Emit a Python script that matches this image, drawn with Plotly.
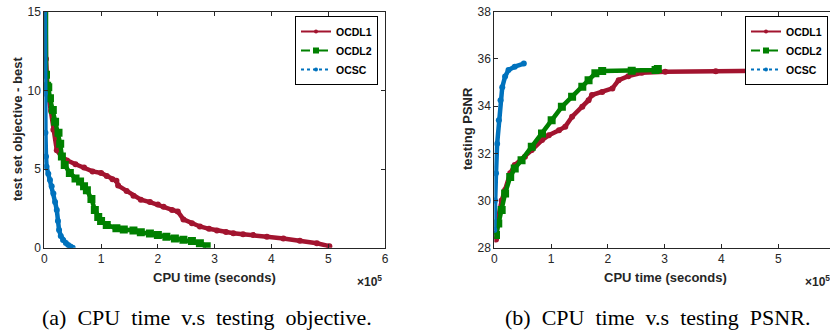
import plotly.graph_objects as go

# ---------------- data (time in units of 1e5 seconds) ----------------
obj_t_ocdl1 = [0.02, 0.03, 0.06, 0.12, 0.16, 0.22, 0.30, 0.40, 0.55, 0.70, 0.85, 1.00, 1.10, 1.20, 1.27,
               1.30, 1.45, 1.57, 1.70, 1.86, 2.00, 2.10, 2.25, 2.35, 2.45, 2.60, 2.74, 2.90, 3.04, 3.20,
               3.33, 3.50, 3.68, 3.92, 4.21, 4.50, 4.80, 5.02]
obj_v_ocdl1 = [16.0, 12.0, 10.0, 8.7, 7.5, 6.2, 5.8, 5.55, 5.3, 5.1, 4.85, 4.75, 4.55, 4.35, 4.25,
               3.95, 3.6, 3.3, 3.05, 2.9, 2.75, 2.6, 2.4, 2.3, 1.8, 1.55, 1.35, 1.2, 1.1, 1.0,
               0.92, 0.85, 0.8, 0.7, 0.58, 0.44, 0.28, 0.1]

obj_t_ocdl2 = [0.03, 0.03, 0.05, 0.07, 0.10, 0.15, 0.19, 0.25, 0.28, 0.31, 0.36, 0.45, 0.55, 0.63, 0.70,
               0.75, 0.83, 0.89, 0.95, 1.00, 1.10, 1.27, 1.40, 1.57, 1.70, 1.86, 2.00, 2.15, 2.30, 2.45,
               2.60, 2.74, 2.86]
obj_v_ocdl2 = [16.0, 11.0, 10.3, 10.2, 9.5, 8.75, 8.0, 7.3, 6.6, 5.8, 5.25, 4.75, 4.4, 4.2, 3.9,
               3.65, 3.1, 2.4, 1.95, 1.7, 1.45, 1.23, 1.15, 1.1, 0.98, 0.9, 0.8, 0.7, 0.58, 0.5,
               0.42, 0.28, 0.1]

obj_t_ocsc = [0.01, 0.01, 0.02, 0.03, 0.04, 0.07, 0.10, 0.13, 0.16, 0.19, 0.22, 0.24, 0.26, 0.29, 0.33,
              0.38, 0.42, 0.46, 0.50]
obj_v_ocsc = [16.0, 9.8, 7.3, 5.8, 5.15, 4.7, 4.3, 3.9, 3.45, 2.9, 2.4, 1.7, 1.12, 0.75, 0.49,
              0.3, 0.17, 0.08, 0.0]

psnr_t_ocdl1 = [0.03, 0.07, 0.13, 0.19, 0.28, 0.36, 0.54, 0.66, 0.84, 0.96, 1.14, 1.25, 1.37, 1.55, 1.66,
                1.72, 1.90, 2.08, 2.19, 2.36, 2.60, 3.01, 3.90, 5.04]
psnr_v_ocdl1 = [28.35, 29.3, 30.0, 30.45, 31.15, 31.5, 31.85, 32.14, 32.56, 32.77, 32.98, 33.13, 33.55, 33.97, 34.25,
                34.47, 34.6, 34.75, 35.1, 35.27, 35.41, 35.46, 35.48, 35.5]

psnr_t_ocdl2 = [0.03, 0.07, 0.13, 0.19, 0.28, 0.36, 0.48, 0.66, 0.84, 1.01, 1.19, 1.37, 1.55, 1.66, 1.78,
                1.90, 2.42, 2.84, 2.88]
psnr_v_ocdl2 = [28.54, 29.03, 29.6, 30.3, 31.0, 31.36, 31.71, 32.28, 32.84, 33.4, 33.97, 34.4, 34.82, 35.1, 35.39,
                35.49, 35.5, 35.53, 35.57]

psnr_t_ocsc = [0.0, 0.01, 0.03, 0.05, 0.08, 0.11, 0.14, 0.19, 0.25, 0.36, 0.52]
psnr_v_ocsc = [28.75, 30.0, 31.15, 32.4, 33.4, 34.25, 34.8, 35.25, 35.53, 35.67, 35.8]

series_names = ["OCDL1", "OCDL2", "OCSC"]
obj_x_ticks = [0, 1, 2, 3, 4, 5, 6]
obj_y_ticks = [0, 5, 10, 15]
psnr_x_ticks = [0, 1, 2, 3, 4, 5, 6]
psnr_y_ticks = [28, 30, 32, 34, 36, 38]

# ---------------- styles ----------------
W, H = 830, 331
colors = ["#A2142F", "#008000", "#0072BD"]
symbols = ["circle", "square", "circle"]
msizes = [3, 5, 3]
dashes = ["solid", "dash", "dot"]
axis_col = "#262626"
sans = "Liberation Sans"


def px_x(v):
    return v / W


def px_y(v):
    return 1 - v / H


fig = go.Figure()

obj_data = [(obj_t_ocdl1, obj_v_ocdl1), (obj_t_ocdl2, obj_v_ocdl2), (obj_t_ocsc, obj_v_ocsc)]
psnr_data = [(psnr_t_ocdl1, psnr_v_ocdl1), (psnr_t_ocdl2, psnr_v_ocdl2), (psnr_t_ocsc, psnr_v_ocsc)]

for i, (xs, ys) in enumerate(obj_data):
    fig.add_trace(go.Scatter(x=xs, y=ys, xaxis="x", yaxis="y", mode="lines+markers",
                             line=dict(color=colors[i], width=4.5),
                             marker=dict(symbol=symbols[i], size=msizes[i] + 3, color=colors[i]),
                             showlegend=False, cliponaxis=True))
for i, (xs, ys) in enumerate(psnr_data):
    fig.add_trace(go.Scatter(x=xs, y=ys, xaxis="x2", yaxis="y2", mode="lines+markers",
                             line=dict(color=colors[i], width=4.5),
                             marker=dict(symbol=symbols[i], size=msizes[i] + 3, color=colors[i]),
                             showlegend=False, cliponaxis=True))

# legend entries (one legend per panel)
for lg, xa, ya in [("legend", "x", "y"), ("legend2", "x2", "y2")]:
    for i, nm in enumerate(series_names):
        fig.add_trace(go.Scatter(x=[None], y=[None], xaxis=xa, yaxis=ya, mode="lines+markers", name=nm,
                                 line=dict(color=colors[i], width=2, dash=dashes[i]),
                                 marker=dict(symbol=symbols[i], size=msizes[i] + 1, color=colors[i]),
                                 legend=lg))

tickfont = dict(family=sans, size=12, color=axis_col)
common_axis = dict(showline=True, linecolor=axis_col, linewidth=1, ticks="inside", ticklen=4,
                   tickcolor=axis_col, tickwidth=1, showgrid=False, zeroline=False, tickfont=tickfont,
                   automargin=False)

x0_l, x1_l = 44.3, 385.0
y_top, y_bot = 11.7, 247.7
x0_r = 494.3
unit = (x1_l - x0_l) / 6.0

legend_common = dict(xanchor="right", yanchor="top", bgcolor="white", bordercolor="#000000", borderwidth=1,
                     font=dict(family=sans, size=10.5, color="#000000", weight="bold"),
                     tracegroupgap=0, itemwidth=30)

fig.update_layout(
    template="none",
    width=W, height=H, margin=dict(l=0, r=0, t=0, b=0, autoexpand=False),
    paper_bgcolor="white", plot_bgcolor="white",
    xaxis=dict(domain=[px_x(x0_l), px_x(x1_l)], range=[0, 6], tickvals=obj_x_ticks,
               mirror="ticks", anchor="y", **common_axis),
    yaxis=dict(domain=[px_y(y_bot), px_y(y_top)], range=[0, 15], tickvals=obj_y_ticks,
               mirror="ticks", anchor="x", **common_axis),
    xaxis2=dict(domain=[px_x(x0_r), 1.0], range=[0, (W - x0_r) / unit], tickvals=psnr_x_ticks,
                mirror="ticks", anchor="y2", **common_axis),
    yaxis2=dict(domain=[px_y(y_bot), px_y(y_top)], range=[28, 38], tickvals=psnr_y_ticks,
                mirror=False, anchor="x2", **common_axis),
    legend=dict(x=px_x(378), y=px_y(16), **legend_common),
    legend2=dict(x=px_x(828), y=px_y(16), **legend_common),
)

title_font = dict(family=sans, size=13, color=axis_col, weight="bold")
ann = []
ann.append(dict(text="CPU time (seconds)", x=px_x((x0_l + x1_l) / 2), y=px_y(277), xref="paper", yref="paper",
                showarrow=False, font=title_font, xanchor="center", yanchor="middle"))
ann.append(dict(text="CPU time (seconds)", x=px_x(665), y=px_y(277), xref="paper", yref="paper",
                showarrow=False, font=title_font, xanchor="center", yanchor="middle"))
ann.append(dict(text="test set objective - best", x=px_x(17), y=px_y(129), xref="paper", yref="paper",
                showarrow=False, font=title_font, textangle=-90, xanchor="center", yanchor="middle"))
ann.append(dict(text="testing PSNR", x=px_x(467), y=px_y(129), xref="paper", yref="paper",
                showarrow=False, font=title_font, textangle=-90, xanchor="center", yanchor="middle"))
ann.append(dict(text="×10<sup>5</sup>", x=px_x(355), y=px_y(281), xref="paper", yref="paper",
                showarrow=False, font=dict(family=sans, size=12, color=axis_col, weight="bold"),
                xanchor="left", yanchor="middle"))
ann.append(dict(text="×10<sup>5</sup>", x=px_x(803), y=px_y(281), xref="paper", yref="paper",
                showarrow=False, font=dict(family=sans, size=12, color=axis_col, weight="bold"),
                xanchor="left", yanchor="middle"))
cap_font = dict(family="Liberation Serif", size=22, color="#000000")
ann.append(dict(text="(a)  CPU  time  v.s  testing  objective.", x=px_x(207), y=px_y(317), xref="paper",
                yref="paper", showarrow=False, font=cap_font, xanchor="center", yanchor="middle"))
ann.append(dict(text="(b)  CPU  time  v.s  testing  PSNR.", x=px_x(657), y=px_y(317), xref="paper",
                yref="paper", showarrow=False, font=cap_font, xanchor="center", yanchor="middle"))
fig.update_layout(annotations=ann)

fig.write_html("out.html", config={"displayModeBar": False},
               post_script="document.body.style.margin='0';document.body.style.padding='0';"
                           "document.body.style.overflow='hidden';")
